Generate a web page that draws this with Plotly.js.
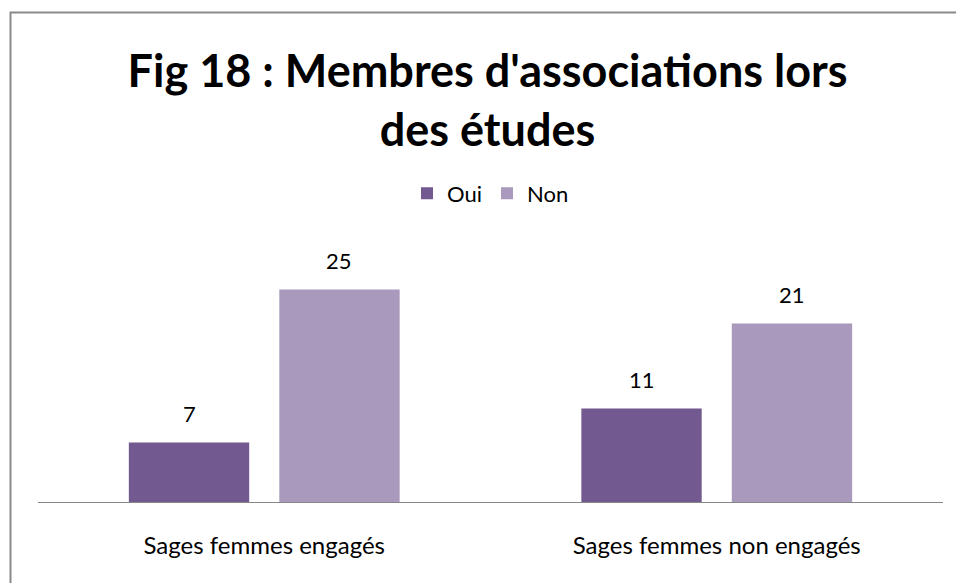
<!DOCTYPE html>
<html>
<head>
<meta charset="utf-8">
<script src="https://cdn.plot.ly/plotly-3.0.1.min.js"></script>
<style>html,body{margin:0;padding:0;background:#fff;}#chart{width:956px;height:583px;}</style>
</head>
<body>
<div id="chart"></div>
<script>
const categories = ["Sages femmes engagés", "Sages femmes non engagés"];
const seriesNames = ["Oui", "Non"];
const ouiValues = [7, 11];
const nonValues = [25, 21];
const colors = ["#725990", "#A99ABD"];

const FONT = "Lato, 'Open Sans', sans-serif";

const traces = [
  {type: "bar", name: seriesNames[0], x: categories, y: ouiValues, marker: {color: colors[0]}, hoverinfo: "none"},
  {type: "bar", name: seriesNames[1], x: categories, y: nonValues, marker: {color: colors[1]}, hoverinfo: "none"}
];

const annotations = [];
[ouiValues, nonValues].forEach((vals, si) => {
  vals.forEach((v, i) => {
    annotations.push({
      x: categories[i], y: v, xref: "x", yref: "y",
      text: String(v), showarrow: false,
      xshift: si === 0 ? -75 : 75, yshift: 14, yanchor: "bottom",
      font: {family: FONT, size: 22, color: "#000"}
    });
  });
});

const layout = {
  width: 956, height: 583,
  margin: {l: 38, r: 13, t: 247, b: 81},
  paper_bgcolor: "#fff", plot_bgcolor: "#fff",
  title: {
    text: "<b>Fig 18 : Membres d'associations lors<br>des études</b>",
    font: {family: FONT, size: 45, color: "#000"},
    x: 0.51, xanchor: "center", y: 0.85, yanchor: "top"
  },
  barmode: "group", bargap: 0.335, bargroupgap: 0.2,
  showlegend: true,
  legend: {
    orientation: "h", x: 0.5, xanchor: "center", y: 1.21, yanchor: "middle",
    font: {family: FONT, size: 22, color: "#000"}, itemwidth: 30, traceorder: "normal"
  },
  xaxis: {
    showline: true, linecolor: "#868686", linewidth: 1, ticks: "",
    showgrid: false, zeroline: false,
    tickfont: {family: FONT, size: 24, color: "#000"}, ticklabelstandoff: 22
  },
  yaxis: {range: [0, 30], visible: false, showgrid: false, zeroline: false},
  annotations: annotations,
  shapes: [{
    type: "rect", xref: "paper", yref: "paper",
    x0: (10.5 - 38) / 905, x1: 1.1, y0: -0.5, y1: (502 - 12.5) / 255,
    line: {color: "#8a8a8a", width: 2}, fillcolor: "rgba(0,0,0,0)"
  }]
};

Plotly.newPlot("chart", traces, layout, {displayModeBar: false, staticPlot: true});
</script>
</body>
</html>
